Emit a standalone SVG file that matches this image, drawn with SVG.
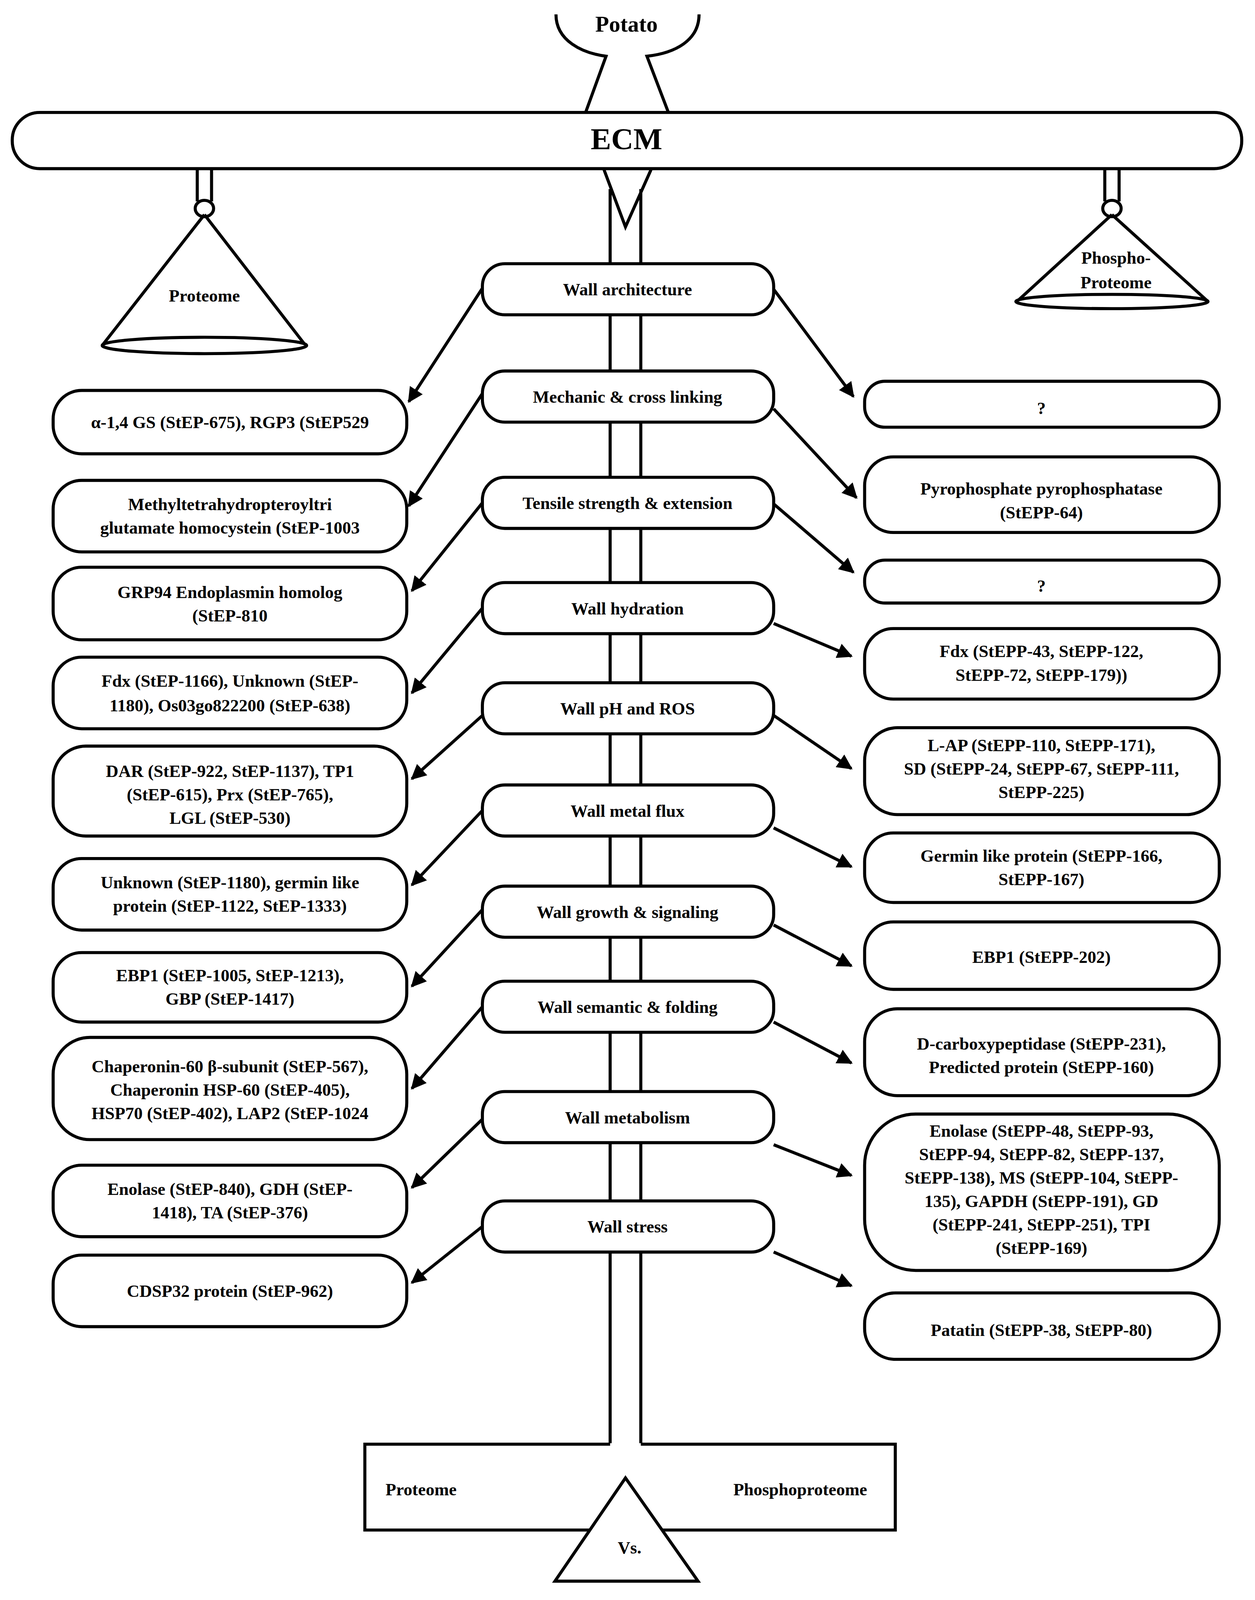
<svg xmlns="http://www.w3.org/2000/svg" width="3213" height="4102" viewBox="0 0 3213 4102">
<style>
.s{fill:none;stroke:#000;stroke-width:3}
.b{fill:#fff;stroke:#000;stroke-width:3}
text{font-family:"Liberation Serif",serif;font-weight:bold;font-size:17px;text-anchor:middle;fill:#000}
.a{fill:none;stroke:#000;stroke-width:3;marker-end:url(#ah)}
</style>
<defs><marker id="ah" viewBox="0 0 10 10" refX="9" refY="5" markerWidth="5" markerHeight="5" orient="auto" markerUnits="strokeWidth"><path d="M0,0 L10,5 L0,10 z" fill="#000"/></marker></defs>
<rect width="3213" height="4102" fill="#fff"/>
<g transform="scale(2.6165)">
<g id="potato"><path class="s" d="M544,14 C544,40 570,52 593,55 L573,110 M684,14 C684,40 660,52 633,55 L654,110"/><text x="613" y="31" style="font-size:22px">Potato</text></g>
<g id="column"><path class="s" d="M597,185 V1412 M627,185 V1412 M591,166 L612,222 L637,166"/></g>
<g id="ecm"><rect class="b" x="12" y="110" width="1203" height="55" rx="27"/><text x="613" y="146" style="font-size:30px">ECM</text></g>
<g id="proteome-cone"><path class="s" d="M193,165 V197 M207,165 V197"/><ellipse class="b" cx="200" cy="204" rx="9" ry="8"/><path class="s" d="M200,210 L100,338 M200,210 L299,338"/><ellipse class="b" cx="200" cy="338" rx="100" ry="8"/><text x="200" y="295">Proteome</text></g>
<g id="phospho-cone"><path class="s" d="M1081,165 V197 M1095,165 V197"/><ellipse class="b" cx="1088" cy="204" rx="9" ry="8"/><path class="s" d="M1088,210 L995,295 M1088,210 L1182,295"/><ellipse class="b" cx="1088" cy="295" rx="94" ry="7"/><text x="1092" y="258">Phospho-</text><text x="1092" y="282">Proteome</text></g>
<g id="connectors">
<path class="a" d="M472,282 L400,393"/><path class="a" d="M472,385 L400,495"/><path class="a" d="M472,492 L403,578"/><path class="a" d="M472,595 L403,678"/><path class="a" d="M472,700 L403,762"/><path class="a" d="M472,793 L403,866"/><path class="a" d="M472,890 L403,965"/><path class="a" d="M472,985 L403,1065"/><path class="a" d="M472,1095 L403,1162"/><path class="a" d="M472,1200 L403,1255"/>
<path class="a" d="M757,283 L835,388"/><path class="a" d="M757,400 L838,487"/><path class="a" d="M757,493 L835,560"/><path class="a" d="M757,610 L833,642"/><path class="a" d="M757,700 L833,752"/><path class="a" d="M757,810 L833,848"/><path class="a" d="M757,905 L833,945"/><path class="a" d="M757,1000 L833,1040"/><path class="a" d="M757,1120 L833,1150"/><path class="a" d="M757,1225 L833,1258"/>
</g>
<g id="c1"><rect class="b" x="472" y="258" width="285" height="50" rx="22"/><text x="614" y="289">Wall architecture</text></g>
<g id="c2"><rect class="b" x="472" y="363" width="285" height="50" rx="22"/><text x="614" y="394">Mechanic &amp; cross linking</text></g>
<g id="c3"><rect class="b" x="472" y="467" width="285" height="50" rx="22"/><text x="614" y="498">Tensile strength &amp; extension</text></g>
<g id="c4"><rect class="b" x="472" y="570" width="285" height="50" rx="22"/><text x="614" y="601">Wall hydration</text></g>
<g id="c5"><rect class="b" x="472" y="668" width="285" height="50" rx="22"/><text x="614" y="699">Wall pH and ROS</text></g>
<g id="c6"><rect class="b" x="472" y="768" width="285" height="50" rx="22"/><text x="614" y="799">Wall metal flux</text></g>
<g id="c7"><rect class="b" x="472" y="867" width="285" height="50" rx="22"/><text x="614" y="898">Wall growth &amp; signaling</text></g>
<g id="c8"><rect class="b" x="472" y="960" width="285" height="50" rx="22"/><text x="614" y="991">Wall semantic &amp; folding</text></g>
<g id="c9"><rect class="b" x="472" y="1068" width="285" height="50" rx="22"/><text x="614" y="1099">Wall metabolism</text></g>
<g id="c10"><rect class="b" x="472" y="1175" width="285" height="50" rx="22"/><text x="614" y="1206">Wall stress</text></g>
<g id="l1"><rect class="b" x="52" y="382" width="346" height="62" rx="28"/><text x="225" y="419">α-1,4 GS (StEP-675), RGP3 (StEP529</text></g>
<g id="l2"><rect class="b" x="52" y="470" width="346" height="70" rx="28"/><text x="225" y="499">Methyltetrahydropteroyltri</text><text x="225" y="522">glutamate homocystein (StEP-1003</text></g>
<g id="l3"><rect class="b" x="52" y="555" width="346" height="71" rx="28"/><text x="225" y="585">GRP94 Endoplasmin homolog</text><text x="225" y="608">(StEP-810</text></g>
<g id="l4"><rect class="b" x="52" y="643" width="346" height="70" rx="28"/><text x="225" y="672">Fdx (StEP-1166), Unknown (StEP-</text><text x="225" y="696">1180), Os03go822200 (StEP-638)</text></g>
<g id="l5"><rect class="b" x="52" y="730" width="346" height="88" rx="32"/><text x="225" y="760">DAR (StEP-922, StEP-1137), TP1</text><text x="225" y="783">(StEP-615), Prx (StEP-765),</text><text x="225" y="806">LGL (StEP-530)</text></g>
<g id="l6"><rect class="b" x="52" y="840" width="346" height="70" rx="28"/><text x="225" y="869">Unknown (StEP-1180), germin like</text><text x="225" y="892">protein (StEP-1122, StEP-1333)</text></g>
<g id="l7"><rect class="b" x="52" y="932" width="346" height="68" rx="28"/><text x="225" y="960">EBP1 (StEP-1005, StEP-1213),</text><text x="225" y="983">GBP (StEP-1417)</text></g>
<g id="l8"><rect class="b" x="52" y="1015" width="346" height="100" rx="36"/><text x="225" y="1049">Chaperonin-60 β-subunit (StEP-567),</text><text x="225" y="1072">Chaperonin HSP-60 (StEP-405),</text><text x="225" y="1095">HSP70 (StEP-402), LAP2 (StEP-1024</text></g>
<g id="l9"><rect class="b" x="52" y="1140" width="346" height="70" rx="28"/><text x="225" y="1169">Enolase (StEP-840), GDH (StEP-</text><text x="225" y="1192">1418), TA (StEP-376)</text></g>
<g id="l10"><rect class="b" x="52" y="1228" width="346" height="70" rx="28"/><text x="225" y="1269">CDSP32 protein (StEP-962)</text></g>
<g id="r1"><rect class="b" x="846" y="373" width="347" height="45" rx="20"/><text x="1019" y="405">?</text></g>
<g id="r2"><rect class="b" x="846" y="447" width="347" height="74" rx="28"/><text x="1019" y="484">Pyrophosphate pyrophosphatase</text><text x="1019" y="507">(StEPP-64)</text></g>
<g id="r3"><rect class="b" x="846" y="548" width="347" height="42" rx="20"/><text x="1019" y="579">?</text></g>
<g id="r4"><rect class="b" x="846" y="615" width="347" height="69" rx="28"/><text x="1019" y="643">Fdx (StEPP-43, StEPP-122,</text><text x="1019" y="666">StEPP-72, StEPP-179))</text></g>
<g id="r5"><rect class="b" x="846" y="712" width="347" height="85" rx="32"/><text x="1019" y="735">L-AP (StEPP-110, StEPP-171),</text><text x="1019" y="758">SD (StEPP-24, StEPP-67, StEPP-111,</text><text x="1019" y="781">StEPP-225)</text></g>
<g id="r6"><rect class="b" x="846" y="815" width="347" height="68" rx="28"/><text x="1019" y="843">Germin like protein (StEPP-166,</text><text x="1019" y="866">StEPP-167)</text></g>
<g id="r7"><rect class="b" x="846" y="902" width="347" height="66" rx="28"/><text x="1019" y="942">EBP1 (StEPP-202)</text></g>
<g id="r8"><rect class="b" x="846" y="987" width="347" height="85" rx="32"/><text x="1019" y="1027">D-carboxypeptidase (StEPP-231),</text><text x="1019" y="1050">Predicted protein (StEPP-160)</text></g>
<g id="r9"><rect class="b" x="846" y="1090" width="347" height="153" rx="50"/><text x="1019" y="1112">Enolase (StEPP-48, StEPP-93,</text><text x="1019" y="1135">StEPP-94, StEPP-82, StEPP-137,</text><text x="1019" y="1158">StEPP-138), MS (StEPP-104, StEPP-</text><text x="1019" y="1181">135), GAPDH (StEPP-191), GD</text><text x="1019" y="1204">(StEPP-241, StEPP-251), TPI</text><text x="1019" y="1227">(StEPP-169)</text></g>
<g id="r10"><rect class="b" x="846" y="1265" width="347" height="65" rx="30"/><text x="1019" y="1307">Patatin (StEPP-38, StEPP-80)</text></g>
<g id="balance"><path class="s" d="M597,1413 H357 V1497 H876 V1413 H627"/><path class="b" d="M612,1446 L543,1547 H683 Z"/><text x="412" y="1463">Proteome</text><text x="783" y="1463">Phosphoproteome</text><text x="616" y="1520">Vs.</text></g>
</g>
</svg>
